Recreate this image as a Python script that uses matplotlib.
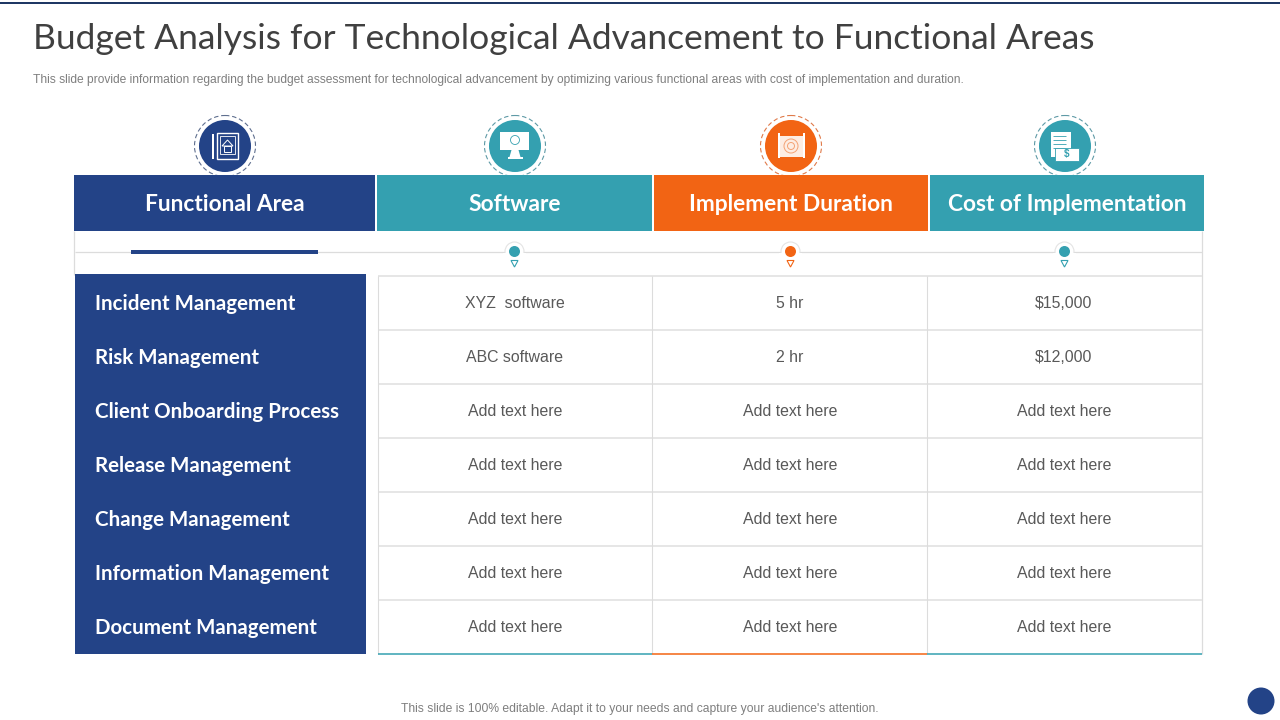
import matplotlib
matplotlib.use("Agg")
import matplotlib.pyplot as plt
from matplotlib.patches import Rectangle, Circle, Polygon

TITLE = "Budget Analysis for Technological Advancement to Functional Areas"
SUBTITLE = ("This slide provide information regarding the budget assessment for technological advancement "
            "by optimizing various functional areas with cost of implementation and duration.")
FOOTER = "This slide is 100% editable. Adapt it to your needs and capture your audience's attention."
headers = ["Functional Area", "Software", "Implement Duration", "Cost of Implementation"]
areas = ["Incident Management", "Risk Management", "Client Onboarding Process", "Release Management",
         "Change Management", "Information Management", "Document Management"]
software = ["XYZ  software", "ABC software"] + ["Add text here"] * 5
duration = ["5 hr", "2 hr"] + ["Add text here"] * 5
cost = ["$15,000", "$12,000"] + ["Add text here"] * 5

NAVY, TEAL, ORANGE = "#234387", "#34A0B0", "#F26414"
GRID, TXT, SUB = "#DCDCDC", "#595959", "#7F7F7F"
SANS = "Liberation Sans"
HEAD = "Lato"

fig = plt.figure(figsize=(12.8, 7.2), dpi=100, facecolor="white")
ax = fig.add_axes([0, 0, 1, 1])
ax.set_xlim(0, 1280); ax.set_ylim(720, 0); ax.axis("off")

def rect(x0, y0, x1, y1, c, z=2):
    ax.add_patch(Rectangle((x0, y0), x1 - x0, y1 - y0, fc=c, ec="none", zorder=z))

def line(x0, y0, x1, y1, c=GRID, lw=1.0, z=1):
    ax.plot([x0, x1], [y0, y1], color=c, lw=lw, zorder=z, solid_capstyle="butt")

# top rule, title, notes
rect(0, 2, 1280, 4, "#1F3864")
ax.text(33, 39, TITLE, fontsize=25.5, family=HEAD, color="#404040", va="center", ha="left")
ax.text(33, 79.5, SUBTITLE, fontsize=8.65, family=SANS, color=SUB, va="center", ha="left")
ax.text(640, 709, FOOTER, fontsize=8.7, family=SANS, color=SUB, va="center", ha="center")
ax.add_patch(Circle((1261, 701), 13.5, fc=NAVY, ec="none"))

# header bands
col_edges = [(74, 375), (377, 652), (654, 928), (930, 1204)]
col_cols = [NAVY, TEAL, ORANGE, TEAL]
ring_cols = ["#5F6F8F", "#5E9AA6", "#E07A4A", "#5E9AA6"]
centers = [225, 515, 791, 1065]
for (x0, x1), c, rc, h, cx in zip(col_edges, col_cols, ring_cols, headers, centers):
    rect(x0, 175, x1, 231, c)
    ax.text((x0 + x1) / 2, 204.5, h, fontsize=16.4, family=HEAD, weight="bold", color="white",
            va="center", ha="center", zorder=3)
    ax.add_patch(Circle((cx, 146), 30.5, fc="white", ec=rc, lw=0.8, ls=(0, (4, 2.5)), zorder=1))
    ax.add_patch(Circle((cx, 146), 26, fc=c, ec="none", zorder=1.5))

W = "white"
def box(x0, y0, x1, y1, fc=W, ec="none", lw=0.8, z=3):
    ax.add_patch(Rectangle((x0, y0), x1 - x0, y1 - y0, fc=fc, ec=ec, lw=lw, zorder=z))

# tablet icon
box(212, 134, 213.5, 159)
box(217, 133, 238, 159, fc="none", ec=W, lw=1.0)
box(220, 136, 235, 154, fc="none", ec=W, lw=0.6)
ax.add_patch(Polygon([[222, 146], [227.5, 140], [233, 146]], closed=True, fc="none", ec=W, lw=0.7, zorder=3))
box(224, 146, 231, 152, fc="none", ec=W, lw=0.7)
# monitor icon
box(500, 132, 529, 150)
ax.add_patch(Circle((515, 140), 4.5, fc="none", ec=TEAL, lw=0.6, zorder=4))
ax.add_patch(Polygon([[511.5, 150], [518.5, 150], [520.5, 157], [509.5, 157]], closed=True, fc=W, ec="none", zorder=3))
box(507.5, 157, 523, 159)
# blueprint icon
box(778, 136, 804, 157, fc="#FDEDE3")
box(778, 133, 779.5, 158); box(803, 133, 804.5, 158)
ax.add_patch(Circle((791, 146), 7, fc="none", ec="#F4A274", lw=0.7, zorder=4))
ax.add_patch(Circle((791, 146), 3.5, fc="none", ec="#F4A274", lw=0.7, zorder=4))
# document and cash icon
box(1051, 132, 1071, 157)
for yy in (136, 140, 144, 148):
    line(1053, yy, 1066, yy, c=TEAL, lw=0.6, z=4)
box(1055, 148, 1079, 161, fc=W, ec=TEAL, lw=0.6, z=4)
ax.text(1067, 154.5, "$", fontsize=7, color=TEAL, ha="center", va="center", zorder=5, family=SANS, weight="bold")

# strip between header and table
line(74, 231, 74, 275, lw=0.9)
line(1202, 231, 1202, 654, lw=0.9)
line(75, 252, 1202, 252, lw=0.9)
rect(131, 250, 318, 254, NAVY)
for cx, c in zip(centers[1:], col_cols[1:]):
    ax.add_patch(Circle((cx - 0.5, 251.5), 9.5, fc="white", ec="#E4E4E4", lw=0.8, zorder=2))
    rect(cx - 12, 252.6, cx + 11, 262, "white", z=2.1)
    ax.add_patch(Circle((cx - 0.5, 251.5), 5.5, fc=c, ec="none", zorder=3))
    ax.add_patch(Polygon([[cx - 4, 260.5], [cx + 3, 260.5], [cx - 0.5, 267]], closed=True, fc="white", ec=c, lw=0.8, zorder=3))

# left block
rect(75, 274, 366, 654, NAVY)
row_h = 54
row_y = [303 + row_h * i for i in range(7)]
for y, a in zip(row_y, areas):
    ax.text(95, y + 1, a, fontsize=14.8, family=HEAD, weight="bold", color="white", va="center", ha="left", zorder=3)

# table grid
for i in range(7):
    y = 276 + row_h * i
    line(377.5, y, 1202, y, c="#E6E6E6", lw=1.4)
for x in (377.5, 652, 927):
    line(x, 276, x, 654, lw=0.8)
for (x0, x1), c in zip([(377.5, 652), (652, 927), (927, 1202)], [TEAL, ORANGE, TEAL]):
    line(x0, 654, x1, 654, c=c, lw=1.1, z=2)

# body text
for cx, vals in zip([515, 790, 1064], [software, duration, cost]):
    for y, v in zip(row_y, vals):
        ax.text(cx, y + 1, v, fontsize=11.4, family=SANS, color=TXT, va="center", ha="center", zorder=3)

fig.savefig("out.png", dpi=100, facecolor="white")
